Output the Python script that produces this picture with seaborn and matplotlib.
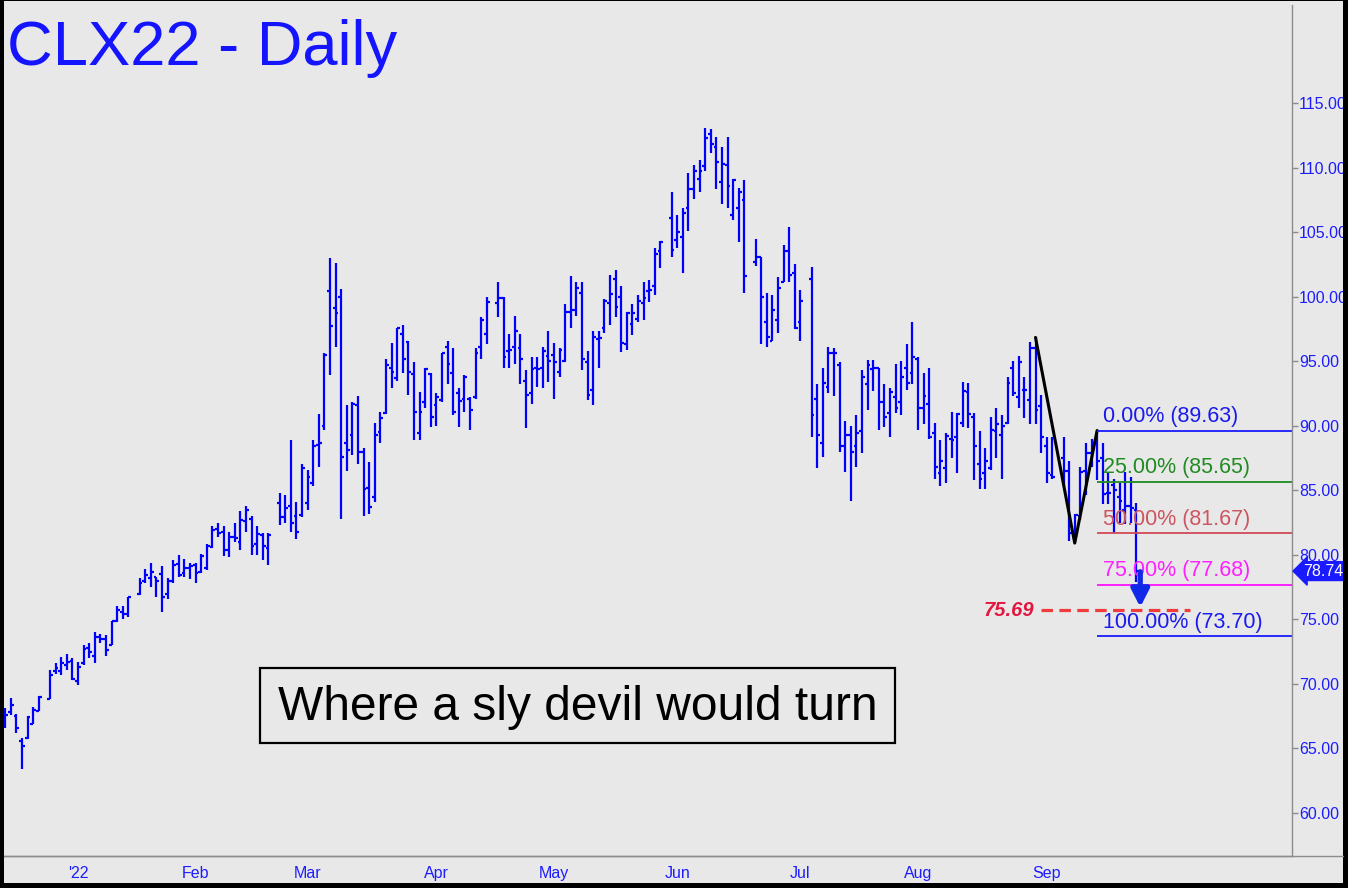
import matplotlib.pyplot as plt
import matplotlib.transforms as mtransforms
import numpy as np
import pandas as pd
import seaborn as sns
from matplotlib.lines import Line2D
from matplotlib.patches import Rectangle

sns.set_theme(style="white")
plt.rcParams["font.family"] = ["Liberation Sans", "DejaVu Sans"]

BG = "#e8e8e8"
BAR_BLUE = "#0000ff"
TEXT_BLUE = "#1c1cff"
AXIS_GREY = "#8c8c8c"

# exchange holidays (slots stay empty on the weekday axis)
holidays = ["2021-12-24", "2022-01-17", "2022-02-21", "2022-04-15",
            "2022-05-30", "2022-06-20", "2022-07-04", "2022-09-05"]
first_day = "2021-12-15"
last_day = "2022-09-23"

# daily OHLC, Dec / Jan / Feb / ... / Sep per line
opens = [
    67.0, 67.8, 67.5, 65.6, 65.8, 66.9, 67.9, 68.8, 71.0, 71.0, 71.5, 71.8,
    70.2, 71.6, 72.8, 72.2, 73.6, 73.5, 73.0, 74.9, 75.6, 75.4, 77.0, 78.0, 78.2, 78.3, 78.5, 77.0, 78.0, 79.3, 78.6, 79.0,
    79.2, 78.7, 79.0, 80.6, 82.0, 81.8, 80.4, 81.4, 81.0, 82.6, 82.8, 80.8, 81.5, 80.5, 84.0, 82.9, 83.8, 83.0, 83.1,
    84.0, 85.6, 88.5, 90.0, 100.4, 99.1, 100.0, 88.7, 89.3, 91.6, 88.0, 85.2, 84.5, 89.5, 91.0, 94.5, 93.7, 97.1, 96.5, 94.0, 89.4, 91.8, 94.0,
    91.6, 92.0, 96.1, 94.1, 92.5, 92.1, 92.1, 92.2, 96.1, 97.1, 99.5, 99.9, 95.8, 96.1, 96.0, 93.5, 92.5, 94.5, 94.5, 95.4,
    95.5, 94.2, 95.0, 98.8, 99.0, 100.3, 94.9, 92.8, 96.7, 97.6, 99.5, 101.4, 100.0, 96.3, 97.9, 98.3, 99.5, 100.4, 100.8, 103.5, 106.1,
    104.4, 104.6, 106.9, 108.3, 109.1, 110.1, 112.6, 111.6, 108.9, 110.2, 106.3, 106.9, 107.5, 102.7, 103.1, 98.0, 96.6, 98.2, 101.1, 103.5, 101.8,
    98.0, 101.4, 92.1, 88.7, 93.0, 95.6, 94.7, 88.4, 89.3, 88.4, 89.6, 93.2, 94.4, 94.5, 91.8, 91.0, 92.2, 91.8, 94.5, 94.1,
    95.2, 91.4, 91.7, 89.4, 86.3, 86.7, 89.0, 89.1, 90.2, 92.6, 90.7, 87.0, 86.3, 86.7, 89.6, 89.3, 90.2, 94.5, 92.2, 92.8, 92.0, 96.0, 91.5,
    88.4, 86.2, 87.5, 86.5, 81.7, 83.0, 86.5, 87.9, 88.7, 87.5, 84.8, 85.4, 84.5, 83.5, 83.8, 83.5,
]
highs = [
    68.1, 68.9, 67.7, 65.8, 67.5, 68.2, 69.1, 71.1, 71.6, 72.1, 72.3, 72.0,
    71.7, 73.0, 73.2, 74.0, 73.9, 73.8, 74.9, 76.0, 76.0, 76.7, 78.2, 78.9, 79.4, 78.3, 79.1, 78.2, 79.6, 80.0, 79.7, 79.4,
    79.4, 80.1, 80.8, 82.2, 82.5, 82.2, 81.8, 82.5, 83.4, 83.8, 83.0, 82.2, 81.7, 81.7, 84.8, 84.6, 88.9, 84.1, 87.0,
    86.6, 88.9, 90.9, 95.6, 103.0, 102.6, 100.6, 91.6, 91.8, 92.3, 88.3, 87.2, 90.2, 91.1, 95.2, 96.4, 97.6, 97.8, 96.6, 94.9, 92.6, 94.5, 94.1,
    92.5, 95.6, 96.6, 96.0, 92.9, 93.9, 92.2, 96.0, 98.4, 100.0, 101.1, 100.0, 97.1, 98.5, 97.1, 94.3, 95.3, 95.3, 96.1, 97.3,
    96.4, 96.0, 99.4, 101.6, 101.1, 101.1, 95.8, 97.3, 97.3, 99.8, 101.7, 102.1, 100.8, 98.8, 99.4, 100.1, 101.1, 101.3, 103.8, 104.3, 108.1,
    106.3, 106.9, 109.6, 110.2, 110.6, 113.1, 113.0, 112.4, 111.6, 112.4, 109.1, 108.4, 109.0, 104.5, 103.1, 100.3, 100.1, 101.5, 104.0, 105.4, 102.5,
    100.5, 102.3, 93.2, 94.5, 96.1, 96.0, 94.9, 90.4, 90.0, 90.8, 94.3, 95.1, 95.1, 94.5, 93.2, 92.9, 94.8, 95.0, 96.3, 98.0,
    95.3, 94.1, 94.5, 90.2, 88.9, 89.4, 91.1, 91.0, 93.4, 93.3, 91.0, 89.6, 88.3, 90.7, 91.4, 90.8, 93.8, 95.0, 95.4, 93.8, 96.5, 96.84, 92.4,
    89.1, 89.1, 89.1, 87.3, 83.2, 86.8, 88.7, 89.0, 89.63, 88.7, 86.3, 85.9, 85.6, 86.4, 86.0, 84.0,
]
lows = [
    66.6, 67.6, 66.2, 63.4, 65.7, 66.9, 67.9, 68.8, 70.8, 70.7, 71.1, 70.3,
    69.9, 71.5, 72.0, 71.6, 73.2, 72.2, 73.0, 74.8, 75.0, 75.2, 76.9, 77.8, 77.5, 76.7, 75.6, 76.6, 77.8, 78.3, 78.3, 78.1,
    77.8, 78.6, 78.8, 80.5, 81.4, 79.9, 79.8, 81.0, 80.4, 81.8, 80.0, 80.0, 79.6, 79.2, 82.3, 82.5, 81.8, 81.2, 82.9,
    83.5, 85.3, 86.8, 89.7, 93.9, 96.1, 82.8, 86.5, 87.7, 87.0, 83.0, 83.2, 84.1, 88.7, 90.9, 92.9, 93.5, 94.1, 92.4, 88.9, 88.9, 91.4, 89.9,
    90.0, 91.8, 93.2, 90.8, 89.9, 91.1, 89.7, 92.1, 95.2, 96.3, 98.4, 94.5, 94.5, 94.8, 93.2, 89.8, 91.7, 93.0, 92.9, 93.4,
    92.1, 93.8, 94.9, 97.6, 98.5, 94.3, 92.0, 91.6, 94.5, 97.2, 97.8, 98.4, 95.7, 95.9, 97.0, 98.0, 98.2, 99.6, 100.1, 102.2, 103.1,
    103.8, 101.8, 105.1, 107.6, 108.1, 109.7, 111.1, 108.3, 107.2, 106.9, 105.9, 104.2, 100.3, 102.4, 96.3, 96.1, 96.6, 97.2, 101.1, 101.1, 97.5,
    96.6, 89.1, 86.7, 87.6, 92.5, 92.3, 88.0, 86.4, 84.2, 86.8, 87.9, 91.2, 92.7, 89.7, 89.9, 89.1, 91.0, 90.8, 92.8, 93.2,
    89.7, 90.1, 89.0, 85.9, 85.3, 85.6, 87.5, 86.3, 89.9, 89.8, 85.8, 85.1, 85.1, 86.6, 87.5, 85.9, 90.1, 92.3, 91.4, 90.6, 90.1, 90.1, 87.9,
    85.6, 85.9, 85.3, 81.1, 80.91, 82.7, 84.6, 86.8, 85.8, 83.9, 83.9, 81.7, 82.5, 82.4, 82.5, 77.9,
]
closes = [
    67.6, 68.4, 66.6, 65.2, 67.4, 68.0, 69.0, 70.7, 71.2, 71.6, 71.7, 70.4,
    71.3, 72.7, 72.5, 73.6, 73.5, 72.6, 74.9, 75.7, 75.4, 76.7, 77.8, 78.4, 78.7, 78.0, 76.7, 78.0, 79.2, 78.4, 79.0, 79.1,
    78.6, 79.9, 80.7, 81.9, 81.7, 80.4, 81.4, 81.3, 82.7, 83.5, 80.7, 81.6, 80.7, 81.5, 82.9, 83.6, 82.5, 81.8, 86.7,
    86.0, 88.4, 88.7, 95.5, 97.7, 98.7, 87.6, 88.1, 91.7, 88.0, 85.1, 83.7, 89.3, 90.6, 94.7, 94.2, 97.6, 95.2, 94.2, 91.1, 91.1, 94.4, 90.7,
    92.2, 95.6, 94.8, 91.1, 91.9, 93.8, 91.2, 95.6, 98.2, 99.6, 99.9, 95.3, 95.9, 97.3, 95.2, 92.4, 94.4, 94.4, 95.8, 95.0,
    94.9, 95.9, 98.8, 99.0, 100.7, 95.2, 92.4, 96.9, 96.8, 99.7, 100.2, 99.2, 96.4, 98.7, 98.7, 99.7, 99.9, 100.5, 103.3, 104.2, 103.6,
    105.0, 106.5, 108.3, 109.7, 109.7, 112.3, 111.8, 110.4, 110.3, 108.6, 109.0, 108.1, 101.6, 103.1, 100.0, 96.9, 99.0, 100.7, 103.5, 101.7, 97.6,
    99.7, 90.8, 89.3, 93.3, 95.6, 95.6, 88.4, 89.3, 88.0, 89.4, 93.8, 94.7, 94.5, 91.8, 90.7, 92.6, 91.4, 93.8, 93.3, 95.3,
    91.4, 92.3, 89.1, 86.8, 87.3, 89.2, 88.9, 90.9, 92.7, 90.9, 88.4, 85.9, 87.3, 89.7, 90.1, 90.0, 93.3, 92.5, 94.9, 92.8, 96.0, 91.2, 89.1,
    86.3, 86.0, 86.5, 81.7, 83.1, 86.4, 87.9, 88.7, 87.3, 84.7, 84.8, 85.0, 84.2, 83.8, 83.6, 78.74,
]

# A-B-C swing and its projection
swing_dates = ["2022-08-30", "2022-09-08", "2022-09-14"]
swing_prices = [96.84, 80.91, 89.63]
fib_labels = ["0.00%", "25.00%", "50.00%", "75.00%", "100.00%"]
fib_prices = [89.63, 85.65, 81.67, 77.68, 73.70]
fib_line_colors = ["#1a1aff", "#1e8c1e", "#d04a55", "#ff10ff", "#1a1aff"]
fib_text_colors = ["#1a1aee", "#228b22", "#cd5560", "#ff20ff", "#1a1aee"]
target_price = 75.69
last_close = 78.74

month_labels = ["'22", "Feb", "Mar", "Apr", "May", "Jun", "Jul", "Aug", "Sep"]
price_ticks = [60, 65, 70, 75, 80, 85, 90, 95, 100, 105, 110, 115]

# weekday slots (holidays leave gaps), one week extra for the minor ticks
slots = pd.bdate_range(first_day, "2022-09-26")
trade_days = slots[slots <= last_day].drop(pd.to_datetime(holidays))
df = pd.DataFrame({
    "pos": slots.get_indexer(trade_days),
    "open": opens, "high": highs, "low": lows, "close": closes,
})

W, H = 1348, 888
fig = plt.figure(figsize=(W / 100, H / 100), dpi=100, facecolor=BG)
ax = fig.add_axes([4 / W, (H - 856) / H, 1288 / W, 851 / H], facecolor=BG)

# OHLC bars
ax.vlines(df["pos"], df["low"], df["high"], colors=BAR_BLUE, lw=1.6)
ax.hlines(df["open"], df["pos"] - 0.5, df["pos"], colors=BAR_BLUE, lw=1.6)
ax.hlines(df["close"], df["pos"], df["pos"] + 0.5, colors=BAR_BLUE, lw=1.6)

x_left, x_right = -0.2, 229.8

# zigzag
swing_pos = slots.get_indexer(pd.to_datetime(swing_dates))
sns.lineplot(x=swing_pos, y=swing_prices, color="black", lw=2.2, ax=ax,
             sort=False, estimator=None)

# fib levels
for lab, p, lc, tc in zip(fib_labels, fib_prices, fib_line_colors, fib_text_colors):
    ax.hlines(p, swing_pos[2], x_right, colors=lc, lw=1.3)
    ax.annotate(f"{lab} ({p:.2f})", xy=(swing_pos[2], p), xytext=(4.5, 2.5),
                textcoords="offset points", ha="left", va="bottom",
                color=tc, fontsize=15.5)

# target line and label
last_pos = df["pos"].iloc[-1]
t_start = slots.get_loc(pd.Timestamp("2022-08-31"))
ax.hlines(target_price, t_start, last_pos + 9.6, colors="#f23b3b",
          linestyles=(0, (3.6, 2.0)), lw=2.3)
ax.annotate(f"{target_price:.2f}", xy=(t_start, target_price), xytext=(-5, 0),
            textcoords="offset points", ha="right", va="center",
            color="#e3163f", fontsize=14.5, fontweight="bold", fontstyle="italic")

# down arrow to target
ax.annotate("", xy=(last_pos + 0.7, target_price + 0.25),
            xytext=(last_pos + 0.7, last_close - 0.05),
            arrowprops=dict(arrowstyle="-|>,head_length=0.75,head_width=0.38",
                            color="#1028e8", lw=3.8, shrinkA=0, shrinkB=0,
                            mutation_scale=14))

# last price tag on the axis
tag_tr = mtransforms.blended_transform_factory(ax.transAxes, ax.transData) + \
    mtransforms.ScaledTranslation(11 / 100, 0, fig.dpi_scale_trans)
ax.text(1.0, last_close, f"{last_close:.2f}", transform=tag_tr, ha="left",
        va="center", color="white", fontsize=11.5,
        bbox=dict(boxstyle="larrow,pad=0.12", fc="#1a1aff", ec="#1a1aff"))

# axes
ax.set_xlim(x_left, x_right)
ax.set_ylim(56.67, 122.59)
ax.spines["top"].set_visible(False)
ax.spines["left"].set_visible(False)
for s in ("right", "bottom"):
    ax.spines[s].set_color(AXIS_GREY)
    ax.spines[s].set_linewidth(1.0)

s_idx = pd.Series(np.arange(len(slots)), index=slots)
firsts = s_idx.groupby([slots.year, slots.month]).first().iloc[1:]
ax.set_xticks(firsts.values)
ax.set_xticklabels(month_labels)
ax.set_xticks(np.where(slots.weekday == 0)[0], minor=True)
ax.tick_params(axis="x", which="major", direction="out", length=7, width=1,
               color=AXIS_GREY, labelcolor=TEXT_BLUE, labelsize=11.5, pad=0)
ax.tick_params(axis="x", which="minor", direction="out", length=4, width=1,
               color=AXIS_GREY)

ax.yaxis.tick_right()
ax.set_yticks(price_ticks)
ax.set_yticklabels([f"{v:.2f}" for v in price_ticks])
ax.tick_params(axis="y", which="major", direction="out", length=4, width=1,
               color=AXIS_GREY, labelcolor=TEXT_BLUE, labelsize=11.5, pad=1)
ax.grid(False)
ax.set_xlabel("")
ax.set_ylabel("")

# titles and callout box
fig.text(7 / W, 1 - 48 / H, "CLX22 - Daily", color="#1414ff", fontsize=45.5,
         ha="left", va="center")
fig.add_artist(Rectangle((260 / W, (H - 743) / H), 635 / W, 75 / H,
                         transform=fig.transFigure, fill=False,
                         ec="black", lw=1.6))
fig.text(577.5 / W, 1 - 707 / H, "Where a sly devil would turn", color="black",
         fontsize=34.5, ha="center", va="center")

# bottom axis rule across to the frame and black frame
fig.add_artist(Line2D([4 / W, 1343 / W], [(H - 856) / H] * 2,
                      transform=fig.transFigure, color=AXIS_GREY, lw=1))
for x0, y0, w, h in [(0, 0, 4, H), (1343, 0, 5, H), (0, 0, W, 5), (0, H - 1, W, 1)]:
    fig.add_artist(Rectangle((x0 / W, y0 / H), w / W, h / H,
                             transform=fig.transFigure, color="black", lw=0))

fig.savefig("out.png", dpi=100, facecolor=BG)
